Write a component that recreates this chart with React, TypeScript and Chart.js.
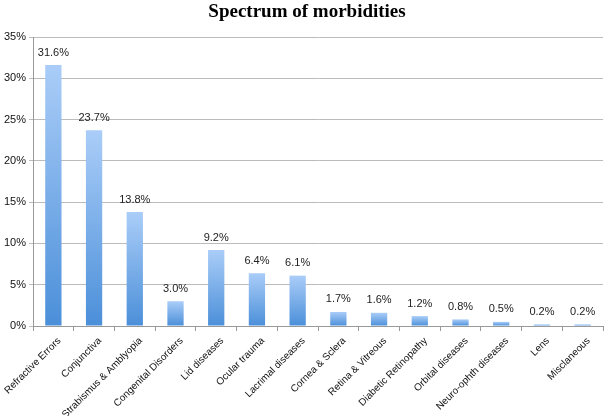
import React, { useEffect, useRef } from "react";
import { Chart, registerables } from "chart.js";

Chart.register(...registerables);

const categories = [
  "Refractive Errors",
  "Conjunctiva",
  "Strabismus & Amblyopia",
  "Congenital Disorders",
  "Lid diseases",
  "Ocular trauma",
  "Lacrimal diseases",
  "Cornea & Sclera",
  "Retina & Vitreous",
  "Diabetic Retinopathy",
  "Orbital diseases",
  "Neuro-ophth diseases",
  "Lens",
  "Misclaneous",
];
const values = [31.6, 23.7, 13.8, 3.0, 9.2, 6.4, 6.1, 1.7, 1.6, 1.2, 0.8, 0.5, 0.2, 0.2];
const yTicks = [0, 5, 10, 15, 20, 25, 30, 35];
const chartTitle = "Spectrum of morbidities";

const labelPlugin = {
  id: "valueLabels",
  afterDatasetsDraw(chart: any) {
    const ctx = chart.ctx;
    const meta = chart.getDatasetMeta(0);
    ctx.save();
    ctx.font = "11px 'Liberation Sans', Arial, sans-serif";
    ctx.fillStyle = "#222";
    ctx.textAlign = "center";
    ctx.textBaseline = "bottom";
    meta.data.forEach((bar: any, i: number) => {
      ctx.fillText(values[i].toFixed(1) + "%", bar.x, bar.y - 7);
    });
    ctx.restore();
  },
};

const titlePlugin = {
  id: "customTitle",
  afterDraw(chart: any) {
    const ctx = chart.ctx;
    ctx.save();
    ctx.font = "bold 19px 'Liberation Serif', 'Times New Roman', serif";
    ctx.fillStyle = "#000";
    ctx.textAlign = "center";
    ctx.textBaseline = "alphabetic";
    ctx.fillText(chartTitle, 307, 17);
    ctx.restore();
  },
};

export default function App() {
  const ref = useRef<HTMLCanvasElement | null>(null);
  useEffect(() => {
    document.body.style.margin = "0";
    const canvas = ref.current!;
    const chart = new Chart(canvas, {
      type: "bar",
      data: {
        labels: categories,
        datasets: [
          {
            data: values,
            barPercentage: 0.4,
            categoryPercentage: 1,
            backgroundColor: (c: any) => {
              const ch = c.chart;
              const ys = ch.scales?.y;
              if (!ys || c.dataIndex === undefined) return "#6aa5e8";
              const top = ys.getPixelForValue(values[c.dataIndex]);
              const bottom = ys.getPixelForValue(0);
              if (!isFinite(top) || !isFinite(bottom) || bottom - top < 1) return "#6aa5e8";
              const g = ch.ctx.createLinearGradient(0, top, 0, bottom);
              g.addColorStop(0, "#aacdf8");
              g.addColorStop(1, "#4b8fd9");
              return g;
            },
          },
        ],
      },
      options: {
        animation: false,
        responsive: false,
        layout: { padding: { left: 0, right: 11, top: 37, bottom: 0 } },
        plugins: {
          legend: { display: false },
          tooltip: { enabled: false },
          title: { display: false },
        },
        scales: {
          x: {
            grid: { display: true, drawOnChartArea: false, offset: true, tickLength: 5, color: "#999" },
            border: { color: "#999" },
            ticks: {
              color: "#111",
              font: { family: "'Liberation Sans', Arial, sans-serif", size: 10 },
              maxRotation: 45,
              minRotation: 45,
              autoSkip: false,
              padding: 4,
              labelOffset: 6,
            },
            afterFit: (axis: any) => {
              axis.height = 90;
              axis.paddingLeft = 0;
              axis.paddingRight = 0;
            },
          },
          y: {
            min: 0,
            max: 35,
            afterBuildTicks: (axis: any) => {
              axis.ticks = yTicks.map((v) => ({ value: v }));
            },
            grid: { color: "#bbb", tickLength: 4 },
            border: { color: "#999" },
            ticks: {
              color: "#111",
              font: { family: "'Liberation Sans', Arial, sans-serif", size: 11 },
              callback: (v: any) => v + "%",
              padding: 3,
            },
            afterFit: (axis: any) => {
              axis.width = 33;
              axis.paddingTop = 0;
            },
          },
        },
      },
      plugins: [labelPlugin, titlePlugin],
    });
    return () => chart.destroy();
  }, []);
  return (
    <div style={{ width: 614, height: 416 }}>
      <canvas ref={ref} width={614} height={416} style={{ display: "block" }} />
    </div>
  );
}
